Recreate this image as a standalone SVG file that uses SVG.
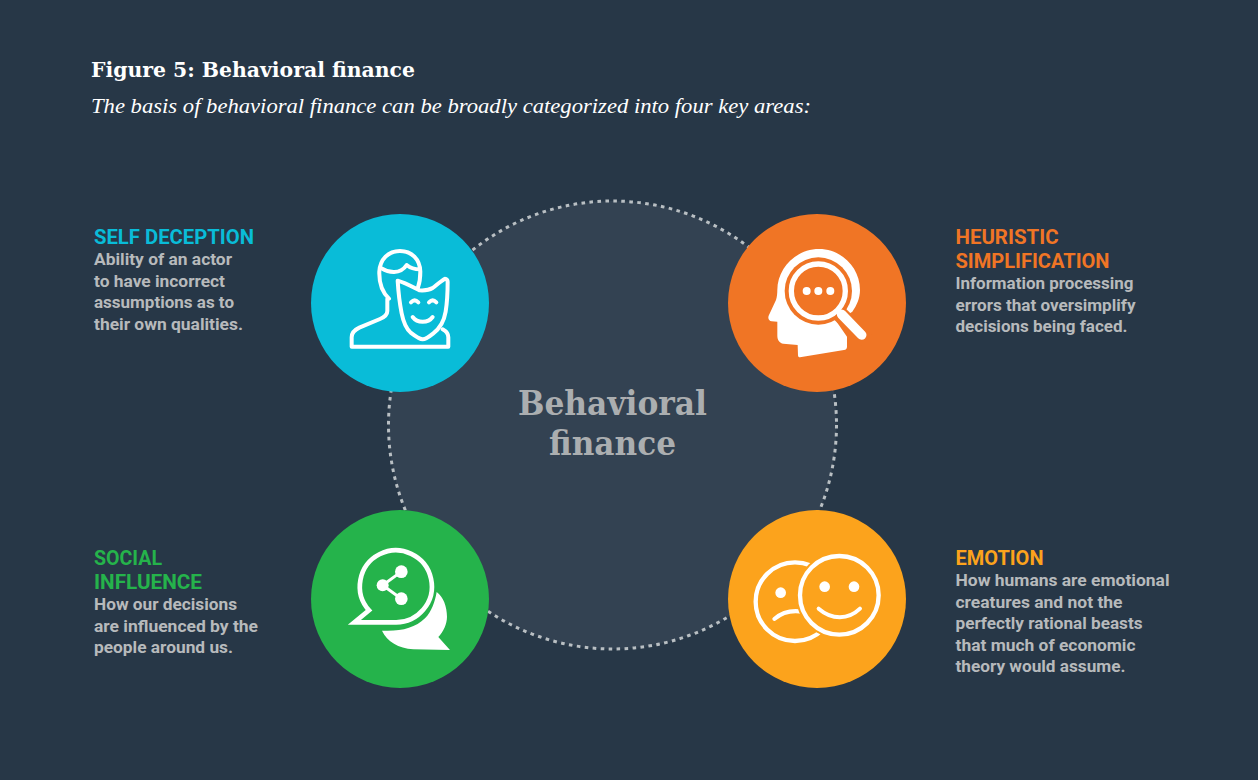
<svg xmlns="http://www.w3.org/2000/svg" width="1258" height="780" viewBox="0 0 1258 780">
<style>
.t{font-family:"DejaVu Serif Condensed","DejaVu Serif","Liberation Serif",serif;fill:#fff}
.i{font-family:"Liberation Serif","DejaVu Serif",serif;fill:#fff}
.h{font-family:Roboto,"Liberation Sans",sans-serif;font-weight:700;font-size:20px}
.b{font-family:Roboto,"Liberation Sans",sans-serif;font-weight:700;font-size:16px;fill:#b7babc}
.c{font-family:"DejaVu Serif Condensed","DejaVu Serif","Liberation Serif",serif;font-weight:700;font-size:34px;fill:#abaeb0;text-anchor:middle}
.ln{fill:none;stroke:#fff;stroke-width:12;stroke-linecap:round;stroke-linejoin:round}
.w{fill:#fff}
</style>
<rect width="1258" height="780" fill="#273747"/>
<text class="t" x="91" y="77" font-size="21" font-weight="700" textLength="324" lengthAdjust="spacingAndGlyphs">Figure 5: Behavioral finance</text>
<text class="i" x="91" y="113" font-size="22" font-style="italic" textLength="720" lengthAdjust="spacingAndGlyphs">The basis of behavioral finance can be broadly categorized into four key areas:</text>
<g id="connectors">
<circle cx="612.5" cy="425" r="224" fill="#334252" stroke="#b9bfc3" stroke-width="3" stroke-dasharray="3.6 4.4"/>
</g>
<g id="center">
<text class="c" x="612.5" y="415" textLength="189" lengthAdjust="spacingAndGlyphs">Behavioral</text>
<text class="c" x="612.5" y="455" textLength="127" lengthAdjust="spacingAndGlyphs">finance</text>
</g>
<g id="self-deception">
<circle cx="400" cy="303" r="89" fill="#09bcd8"/>
<g transform="translate(300 200) scale(.3333)">
<path class="ln" d="M267 296C245 275 237 245 238 215C240 178 265 153 300 153C335 153 360 178 361 215C361 232 359 248 354 262M262 296V333C262 345 252 352 240 357L178 383C163 390 155 398 155 412V440H445V412C445 402 437 393 428 388"/>
<path class="ln" d="M245 205C265 218 300 225 320 195C332 205 345 208 360 208"/>
<path class="ln" d="M293 242C315 248 340 262 358 271C372 272 388 270 398 264C410 255 422 243 435 236C440 236 443 241 443 246C443 280 441 310 437 335C432 365 420 385 400 400C385 412 375 418 368 418C358 418 345 408 332 398C318 385 310 365 305 340C299 310 295 275 293 242Z"/>
<path class="ln" stroke-width="8" d="M333 307C340 300 348 300 355 307M387 307C394 300 402 300 409 307"/>
<path class="ln" stroke-width="10" d="M338 351C352 370 384 370 398 351"/>
</g>
</g>
<g id="heuristic">
<circle cx="817" cy="303" r="89" fill="#f07525"/>
<g transform="translate(720 205) scale(.3333)">
<path class="w" d="M172 255C172 190 228 132 297 132C365 132 420 188 420 255C420 280 410 302 397 320L350 350L381 395V425C381 431 378 434 372 435L240 457C236 457 234 455 234 450L233 420L190 416C178 414 172 405 172 392V350L155 349C147 348 143 340 146 332L168 285C171 276 172 265 172 255Z"/>
<circle cx="295" cy="258" r="101" fill="#f07525"/>
<path d="M350 318L440 405" fill="none" stroke="#f07525" stroke-width="48"/>
<circle cx="295" cy="258" r="81" fill="none" stroke="#fff" stroke-width="16"/>
<path d="M365 328L425 390" fill="none" stroke="#fff" stroke-width="29" stroke-linecap="round"/>
<circle class="w" cx="260" cy="258" r="12"/><circle class="w" cx="295" cy="258" r="12"/><circle class="w" cx="331" cy="258" r="12"/>
</g>
</g>
<g id="social">
<circle cx="400" cy="599" r="89" fill="#25b34b"/>
<g transform="translate(300 500) scale(.3333)">
<path d="M207 331A108 108 0 1 1 283 367L163 367Z" fill="none" stroke="#fff" stroke-width="14" stroke-linejoin="miter"/>
<path d="M304 215L248 256L304 296" fill="none" stroke="#fff" stroke-width="9"/>
<circle class="w" cx="248" cy="256" r="18"/><circle class="w" cx="304" cy="215" r="19"/><circle class="w" cx="304" cy="296" r="19"/>
<path class="w" d="M410 276C430 290 441 320 441 350C441 372 430 395 415 411L450 450L340 448C295 445 262 425 246 392C300 395 345 385 375 355C395 335 405 305 410 276Z"/>
</g>
</g>
<g id="emotion">
<circle cx="817" cy="599" r="89" fill="#fca31c"/>
<g transform="translate(720 500) scale(.3333)">
<circle cx="225" cy="305" r="118" fill="none" stroke="#fff" stroke-width="13"/>
<path class="ln" stroke-width="10" d="M163 357C185 338 215 330 247 335"/>
<circle class="w" cx="182" cy="278" r="16"/>
<circle cx="358" cy="286" r="118" fill="#fca31c" stroke="#fca31c" stroke-width="25"/>
<circle cx="358" cy="286" r="118" fill="#fca31c" stroke="#fff" stroke-width="13"/>
<circle class="w" cx="314" cy="260" r="16"/><circle class="w" cx="402" cy="260" r="16"/>
<path class="ln" stroke-width="10" d="M296 326C335 360 385 360 420 326"/>
</g>
</g>
<g id="label-self">
<text class="h" x="94" y="244" fill="#09bcd8" textLength="160" lengthAdjust="spacingAndGlyphs">SELF DECEPTION</text>
<text class="b" x="94" y="265" textLength="138" lengthAdjust="spacingAndGlyphs">Ability of an actor</text>
<text class="b" x="94" y="287" textLength="131" lengthAdjust="spacingAndGlyphs">to have incorrect</text>
<text class="b" x="94" y="308" textLength="140" lengthAdjust="spacingAndGlyphs">assumptions as to</text>
<text class="b" x="94" y="330" textLength="149" lengthAdjust="spacingAndGlyphs">their own qualities.</text>
</g>
<g id="label-heuristic">
<text class="h" x="955.5" y="244" fill="#f07525" textLength="103" lengthAdjust="spacingAndGlyphs">HEURISTIC</text>
<text class="h" x="955.5" y="268" fill="#f07525" textLength="154" lengthAdjust="spacingAndGlyphs">SIMPLIFICATION</text>
<text class="b" x="955.5" y="289" textLength="178" lengthAdjust="spacingAndGlyphs">Information processing</text>
<text class="b" x="955.5" y="311" textLength="180" lengthAdjust="spacingAndGlyphs">errors that oversimplify</text>
<text class="b" x="955.5" y="332" textLength="172" lengthAdjust="spacingAndGlyphs">decisions being faced.</text>
</g>
<g id="label-social">
<text class="h" x="94" y="565" fill="#25b34b" textLength="68" lengthAdjust="spacingAndGlyphs">SOCIAL</text>
<text class="h" x="94" y="589" fill="#25b34b" textLength="108" lengthAdjust="spacingAndGlyphs">INFLUENCE</text>
<text class="b" x="94" y="610" textLength="143" lengthAdjust="spacingAndGlyphs">How our decisions</text>
<text class="b" x="94" y="632" textLength="164" lengthAdjust="spacingAndGlyphs">are influenced by the</text>
<text class="b" x="94" y="653" textLength="139" lengthAdjust="spacingAndGlyphs">people around us.</text>
</g>
<g id="label-emotion">
<text class="h" x="955.5" y="565" fill="#fca31c" textLength="88" lengthAdjust="spacingAndGlyphs">EMOTION</text>
<text class="b" x="955.5" y="586" textLength="214" lengthAdjust="spacingAndGlyphs">How humans are emotional</text>
<text class="b" x="955.5" y="608" textLength="167" lengthAdjust="spacingAndGlyphs">creatures and not the</text>
<text class="b" x="955.5" y="629" textLength="187" lengthAdjust="spacingAndGlyphs">perfectly rational beasts</text>
<text class="b" x="955.5" y="651" textLength="180" lengthAdjust="spacingAndGlyphs">that much of economic</text>
<text class="b" x="955.5" y="672" textLength="170" lengthAdjust="spacingAndGlyphs">theory would assume.</text>
</g>
</svg>
